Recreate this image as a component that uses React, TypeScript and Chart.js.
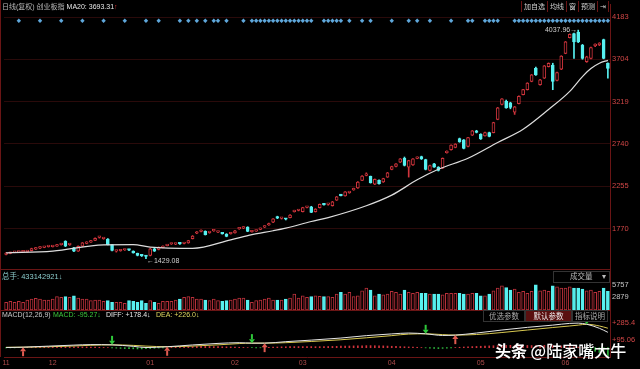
import React, { useEffect, useRef } from 'react';
import { Chart, registerables } from 'chart.js';
Chart.register(...registerables);

// ---------- data ----------
const monthLabels = ['11', '12', '01', '02', '03', '04', '05', '06'];
const monthStarts = [0, 11, 34, 54, 70, 91, 112, 132];
const priceTicks = [1770, 2255, 2740, 3219, 3704, 4183];
const volumeTicks = [2879, 5757];
const macdTicks = [95.06, 285.4];

const opens = [
  1478, 1490, 1503, 1505, 1508, 1510, 1523, 1540, 1550, 1560,
  1568, 1568, 1574, 1590, 1629, 1590, 1554, 1516, 1572, 1605,
  1620, 1640, 1673, 1660, 1655, 1591, 1516, 1521, 1529, 1530,
  1516, 1490, 1470, 1459, 1467, 1542, 1535, 1556, 1580, 1598,
  1596, 1600, 1603, 1610, 1659, 1720, 1740, 1742, 1727, 1748,
  1734, 1718, 1712, 1715, 1723, 1770, 1778, 1790, 1738, 1745,
  1765, 1790, 1815, 1846, 1910, 1890, 1881, 1899, 1968, 1980,
  1967, 2015, 2023, 1967, 2012, 2055, 2049, 2034, 2098, 2160,
  2147, 2183, 2215, 2237, 2324, 2380, 2369, 2279, 2324, 2305,
  2361, 2448, 2482, 2531, 2576, 2474, 2500, 2575, 2595, 2560,
  2437, 2512, 2474, 2463, 2640, 2673, 2700, 2801, 2786, 2711,
  2839, 2888, 2850, 2832, 2869, 2869, 3020, 3189, 3226, 3208,
  3102, 3200, 3302, 3358, 3452, 3602, 3414, 3490, 3621, 3640,
  3463, 3591, 3772, 3952, 3997, 4016, 3866, 3678, 3715, 3860,
  3872, 3929, 3659,
];
const highs = [
  1500, 1505, 1510, 1513, 1515, 1520, 1550, 1558, 1567, 1570,
  1575, 1582, 1593, 1606, 1635, 1600, 1560, 1576, 1615, 1624,
  1640, 1668, 1684, 1670, 1660, 1595, 1525, 1530, 1535, 1534,
  1520, 1494, 1476, 1465, 1548, 1550, 1565, 1577, 1595, 1606,
  1605, 1604, 1617, 1640, 1694, 1740, 1758, 1748, 1737, 1758,
  1742, 1722, 1716, 1730, 1753, 1788, 1795, 1795, 1750, 1757,
  1780, 1806, 1835, 1888, 1915, 1900, 1890, 1933, 1983, 1993,
  2017, 2026, 2028, 2001, 2054, 2060, 2060, 2084, 2140, 2165,
  2196, 2195, 2235, 2310, 2377, 2410, 2373, 2340, 2330, 2348,
  2415, 2486, 2516, 2573, 2590, 2553, 2573, 2592, 2600, 2565,
  2498, 2517, 2480, 2580, 2660, 2730, 2742, 2806, 2790, 2816,
  2893, 2895, 2856, 2874, 2874, 2987, 3156, 3258, 3240, 3215,
  3167, 3288, 3363, 3438, 3532, 3615, 3476, 3634, 3664, 3660,
  3558, 3746, 3908, 3995, 4005, 4037.96, 3875, 3740, 3845, 3880,
  3895, 3935, 3665,
];
const lows = [
  1472, 1486, 1498, 1500, 1503, 1505, 1518, 1535, 1545, 1555,
  1562, 1563, 1570, 1585, 1568, 1582, 1510, 1512, 1568, 1600,
  1615, 1636, 1665, 1652, 1587, 1520, 1505, 1515, 1524, 1522,
  1493, 1462, 1455, 1429.08, 1462, 1512, 1530, 1552, 1575, 1592,
  1590, 1594, 1598, 1606, 1655, 1715, 1735, 1700, 1720, 1742,
  1728, 1710, 1680, 1710, 1720, 1765, 1772, 1738, 1732, 1740,
  1760, 1785, 1810, 1842, 1887, 1882, 1872, 1895, 1962, 1975,
  1963, 2010, 1955, 1962, 2008, 2040, 2040, 2030, 2094, 2145,
  2143, 2176, 2210, 2233, 2320, 2375, 2292, 2275, 2280, 2300,
  2357, 2444, 2478, 2527, 2488, 2361, 2495, 2570, 2562, 2443,
  2432, 2470, 2430, 2458, 2635, 2668, 2695, 2758, 2683, 2706,
  2835, 2865, 2790, 2828, 2820, 2865, 3015, 3185, 3146, 3140,
  3076, 3196, 3298, 3354, 3448, 3522, 3410, 3486, 3617, 3358,
  3459, 3587, 3768, 3948, 3715, 3895, 3705, 3670, 3710, 3850,
  3860, 3710, 3490,
];
const closes = [
  1495, 1500, 1506, 1509, 1510, 1516, 1545, 1552, 1562, 1565,
  1570, 1578, 1588, 1602, 1572, 1592, 1516, 1572, 1610, 1618,
  1636, 1663, 1675, 1661, 1591, 1524, 1518, 1525, 1531, 1527,
  1497, 1467, 1462, 1455, 1542, 1516, 1561, 1572, 1590, 1600,
  1600, 1599, 1612, 1636, 1689, 1735, 1752, 1704, 1732, 1750,
  1735, 1714, 1685, 1725, 1749, 1782, 1790, 1742, 1742, 1752,
  1775, 1800, 1830, 1884, 1892, 1892, 1880, 1929, 1978, 1988,
  2012, 2020, 1959, 1997, 2049, 2045, 2050, 2079, 2136, 2150,
  2192, 2185, 2230, 2305, 2373, 2395, 2297, 2335, 2286, 2343,
  2410, 2482, 2512, 2568, 2493, 2549, 2568, 2587, 2568, 2448,
  2493, 2474, 2437, 2576, 2655, 2726, 2737, 2763, 2688, 2812,
  2888, 2870, 2796, 2869, 2826, 2982, 3151, 3253, 3151, 3155,
  3162, 3283, 3358, 3433, 3527, 3527, 3471, 3629, 3659, 3452,
  3553, 3741, 3903, 3990, 3903, 3903, 3715, 3734, 3839, 3866,
  3877, 3715, 3602,
];
const volumes = [
  1750, 1980, 1750, 1980, 1750, 2280, 2510, 2660, 2510, 2280,
  2280, 2510, 3040, 2890, 3040, 2890, 3260, 2740, 2510, 2510,
  2130, 2280, 2280, 1980, 2130, 1750, 1750, 1750, 1530, 2130,
  1980, 1750, 2130, 1530, 2130, 1750, 1530, 1980, 1980, 1980,
  2280, 2510, 2890, 3040, 2890, 2510, 2510, 2280, 2130, 2510,
  2130, 1980, 2130, 2280, 2510, 2740, 2740, 2280, 1750, 2130,
  2280, 2510, 2740, 2280, 2280, 2280, 2510, 2740, 3640, 2740,
  3260, 2890, 3040, 3260, 3100, 3040, 3040, 2890, 3640, 4020,
  3640, 4020, 3040, 3260, 4400, 5000, 4550, 3260, 3640, 3490,
  3640, 4250, 4020, 3640, 4550, 4020, 3790, 4020, 3790, 3790,
  3640, 3640, 3640, 3490, 3790, 3790, 3790, 3790, 3640, 3640,
  3790, 3790, 3260, 3260, 3640, 4400, 5000, 5530, 5150, 4550,
  4780, 4020, 4250, 3790, 4250, 5757, 4400, 4550, 4250, 5530,
  5300, 5000, 5000, 5300, 5000, 5000, 4780, 4400, 4550, 4020,
  4250, 5000, 4250,
];
// MA20 readings [index, value]
const ma20Points = [
  [0, 1497], [11, 1516], [23, 1588], [30, 1590], [34, 1562], [44, 1548],
  [53, 1645], [58, 1705], [63, 1749], [66, 1779], [72, 1854], [76, 1899],
  [85, 2034], [91, 2155], [97, 2330], [102, 2450], [109, 2576], [116, 2756],
  [122, 2907], [128, 3132], [133, 3339], [136, 3508], [138, 3600], [140, 3660],
  [142, 3693.31],
];
const diffPoints = [
  [0, 2], [4, 6], [10, 18], [16, 30], [20, 36], [25, 33], [30, 16], [33, 2],
  [38, 11], [44, 32], [50, 50], [55, 58], [58, 53], [61, 53], [66, 70], [72, 88],
  [79, 112], [85, 140], [91, 160], [95, 170], [99, 161], [103, 142], [106, 146],
  [111, 170], [117, 205], [123, 236], [129, 262], [133, 282], [135, 285],
  [137, 272], [140, 225], [142, 178.4],
];
const deaPoints = [
  [0, 5], [4, 6], [10, 11], [16, 20], [20, 28], [25, 33], [30, 27], [33, 19],
  [38, 11], [44, 19], [50, 33], [55, 48], [58, 53], [61, 53], [66, 58], [72, 72],
  [79, 92], [85, 115], [91, 140], [95, 158], [99, 161], [103, 152], [106, 146],
  [111, 153], [117, 176], [123, 205], [129, 234], [133, 252], [135, 262],
  [137, 272], [140, 252], [142, 226.0],
];
const macdHist = [
  -3, -2, -2, -1,
  2, 4, 6, 8, 9, 10, 11, 11, 12, 12, 11, 11, 10, 10, 9, 9, 8, 7, 5, 3, 1,
  -2, -5, -8, -10, -12, -13, -14, -14, -12, -10, -7, -4, -2,
  2, 4, 6, 8, 10, 12, 13, 14, 15, 15, 14, 13, 12, 11, 10, 9, 7, 5, 3, 1,
  -1, -2, -1,
  2, 4, 6, 8, 10, 11, 12, 13, 13, 13, 13, 13, 12, 12, 13, 14, 15, 16, 18, 19,
  20, 21, 22, 23, 24, 24, 23, 22, 21, 19, 17, 15, 13, 11, 9, 7, 5, 2,
  -2, -5, -8, -10, -8, -5, -2,
  2, 5, 8, 11, 13, 15, 17, 19, 21, 23, 25, 26, 27, 28, 28, 28, 27, 26, 25, 25,
  26, 27, 27, 25, 23, 21, 19, 16, 12, 8, 3,
  -10, -25, -40, -55, -75, -95.27,
];
const signalIdx = [
  3, 8, 13, 18, 23, 28, 33, 36, 41, 43, 45, 47, 49, 50, 52, 56,
  58, 59, 60, 61, 62, 63, 64, 65, 66, 67, 68, 69, 70, 71, 72,
  75, 76, 77, 78, 79, 81, 84, 86, 91, 95, 97, 100, 105, 109, 110,
  113, 114, 115, 116,
  120, 121, 122, 123, 124, 125, 126, 127, 128, 129, 130, 131, 132, 133, 134,
  135, 136, 137, 138, 139, 140, 141, 142,
];
const buyArrows = [[4, 6], [38, 11], [61, 53], [106, 146]];
const sellArrows = [[25, 33], [58, 53], [99, 161], [137, 272]];

// ---------- styles ----------
const FONT = '"Liberation Sans", "Noto Sans CJK SC", sans-serif';
const RED = '#d0343c';
const CYAN = '#58f0f0';
const DARKRED = '#6a1515';

const decorPlugin = {
  id: 'decor',
  afterDatasetsDraw(chart: any) {
    const { ctx, chartArea, scales } = chart;
    const x = scales.x, y = scales.y, yv = scales.yVol, ym = scales.yMacd;
    ctx.save();
    ctx.strokeStyle = DARKRED;
    ctx.lineWidth = 1;
    ctx.beginPath();
    ctx.moveTo(0.5, 0);
    ctx.lineTo(0.5, chartArea.bottom);
    [yv.top, ym.top].forEach((t: number) => {
      const yy = Math.round(t) + 0.5;
      ctx.moveTo(0, yy);
      ctx.lineTo(chartArea.right, yy);
    });
    ctx.stroke();

    const drawArrow = (i: number, v: number, upDir: boolean) => {
      const px = x.getPixelForValue(i);
      const py = ym.getPixelForValue(v);
      const s = upDir ? 1 : -1;
      ctx.fillStyle = upDir ? '#e05a50' : '#2ec83a';
      ctx.beginPath();
      ctx.moveTo(px, py);
      ctx.lineTo(px - 3, py + s * 4);
      ctx.lineTo(px + 3, py + s * 4);
      ctx.closePath();
      ctx.fill();
      ctx.fillRect(px - 1, upDir ? py + 4 : py - 9, 2, 5);
    };
    buyArrows.forEach(([i, v]) => drawArrow(i, v, true));
    sellArrows.forEach(([i, v]) => drawArrow(i, v, false));

    let hi = 0, lo = 0;
    highs.forEach((h, i) => { if (h > highs[hi]) hi = i; });
    lows.forEach((l, i) => { if (l < lows[lo]) lo = i; });
    ctx.font = '7px ' + FONT;
    ctx.fillStyle = '#d0d0d0';
    ctx.textBaseline = 'middle';
    ctx.textAlign = 'right';
    ctx.fillText(highs[hi].toFixed(2) + '→', x.getPixelForValue(hi) - 1, y.getPixelForValue(highs[hi]));
    ctx.textAlign = 'left';
    ctx.fillText('←' + lows[lo].toFixed(2), x.getPixelForValue(lo) + 1, y.getPixelForValue(lows[lo]) + 2);
    ctx.restore();
  },
};

const abs = (s: any) => ({ position: 'absolute', whiteSpace: 'nowrap', fontFamily: FONT, lineHeight: '10px', ...s });

const fitY = (s: any) => { s.width = 30; s.paddingTop = 0; s.paddingBottom = 0; };

export default function App() {
  const ref = useRef<HTMLCanvasElement>(null);
  useEffect(() => {
    document.body.style.margin = '0';
    document.body.style.background = '#000';
    const N = closes.length;
    const up = closes.map((c, i) => c >= opens[i]);
    const labels = closes.map((_, i) => String(i));
    const monthAt: Record<number, string> = {};
    monthStarts.forEach((s, k) => { monthAt[s] = monthLabels[k]; });
    const sparse = (pts: number[][]) => {
      const a: (number | null)[] = new Array(N).fill(null);
      pts.forEach(([i, v]) => { a[i] = v; });
      return a;
    };
    const SIGNAL_LEVEL = 4144;
    const signalData: (number | null)[] = new Array(N).fill(null);
    signalIdx.forEach((i) => { signalData[i] = SIGNAL_LEVEL; });

    const lineBase = { type: 'line', pointRadius: 0, borderWidth: 1, spanGaps: true, cubicInterpolationMode: 'monotone', order: 0 };
    const chart = new Chart(ref.current as HTMLCanvasElement, {
      type: 'bar',
      data: {
        labels,
        datasets: [
          { ...lineBase, data: sparse(ma20Points), yAxisID: 'y', borderColor: '#dcdcdc', borderWidth: 1.2 },
          { type: 'line', data: signalData, yAxisID: 'y', showLine: false, pointStyle: 'rectRot', pointRadius: 2.2, pointBackgroundColor: '#5fa8dc', pointBorderWidth: 0, order: 0 },
          { type: 'bar', data: opens.map((o, i) => [o, closes[i]]), yAxisID: 'y', backgroundColor: up.map((u) => (u ? '#000' : CYAN)), borderColor: up.map((u) => (u ? RED : CYAN)), borderWidth: 1, borderSkipped: false, barThickness: 3, minBarLength: 1.5, grouped: false, order: 1 },
          { type: 'bar', data: lows.map((l, i) => [l, highs[i]]), yAxisID: 'y', backgroundColor: up.map((u) => (u ? RED : CYAN)), borderWidth: 0, barThickness: 1, grouped: false, order: 2 },
          { type: 'bar', data: volumes, yAxisID: 'yVol', backgroundColor: up.map((u) => (u ? '#000' : CYAN)), borderColor: up.map((u) => (u ? '#b8303a' : CYAN)), borderWidth: 1, borderSkipped: false, barThickness: 3, grouped: false, order: 1 },
          { ...lineBase, data: sparse(diffPoints), yAxisID: 'yMacd', borderColor: '#e6e6e6' },
          { ...lineBase, data: sparse(deaPoints), yAxisID: 'yMacd', borderColor: '#d8c850' },
          { type: 'bar', data: macdHist, yAxisID: 'yMacd', backgroundColor: macdHist.map((v) => (v >= 0 ? RED : '#30c040')), borderWidth: 0, barThickness: 1, grouped: false, order: 1 },
        ] as any,
      },
      options: {
        animation: false,
        responsive: false,
        maintainAspectRatio: false,
        devicePixelRatio: 1,
        events: [],
        layout: { padding: { left: 2, right: 0, top: 0, bottom: 0 } },
        plugins: { legend: { display: false }, tooltip: { enabled: false } },
        scales: {
          x: {
            type: 'category',
            offset: true,
            grid: { display: false, drawTicks: false },
            border: { display: true, color: DARKRED },
            ticks: {
              autoSkip: false, maxRotation: 0, minRotation: 0, padding: 2,
              color: '#b04c4c', font: { size: 7, family: FONT },
              callback: (_v: any, i: number) => monthAt[i] ?? '',
            },
            afterFit: (s: any) => { s.height = 12; s.paddingLeft = 0; s.paddingRight = 0; },
          },
          y: {
            type: 'linear', position: 'right', stack: 'panes', stackWeight: 268,
            min: 1312.6, max: 4335.7,
            grid: { color: '#2a0a0a', drawTicks: false },
            border: { display: true, color: DARKRED },
            ticks: { color: '#d04646', font: { size: 7.5, family: FONT }, padding: 2, callback: (v: any) => String(v) },
            afterBuildTicks: (s: any) => { s.ticks = priceTicks.map((v) => ({ value: v })); },
            afterFit: fitY,
          },
          yVol: {
            type: 'linear', position: 'right', stack: 'panes', stackWeight: 41.4,
            min: 0, max: 9388,
            grid: { display: false, drawTicks: false },
            border: { display: true, color: DARKRED },
            ticks: { color: '#c4c4c4', font: { size: 7.5, family: FONT }, padding: 2, callback: (v: any) => String(v) },
            afterBuildTicks: (s: any) => { s.ticks = volumeTicks.map((v) => ({ value: v })); },
            afterFit: fitY,
          },
          yMacd: {
            type: 'linear', position: 'right', stack: 'panes', stackWeight: 47.6,
            min: -107.8, max: 438,
            grid: { display: false, drawTicks: false },
            border: { display: true, color: DARKRED },
            ticks: { color: '#d04646', font: { size: 7.5, family: FONT }, padding: 2, callback: (v: any) => '+' + v },
            afterBuildTicks: (s: any) => { s.ticks = macdTicks.map((v) => ({ value: v })); },
            afterFit: fitY,
          },
        } as any,
      },
      plugins: [decorPlugin],
    } as any);
    return () => chart.destroy();
  }, []);

  const sep = { borderLeft: '1px solid ' + DARKRED, padding: '0 2px', height: 11, lineHeight: '11px' };
  const btn = (left: number, width: number, text: string, active: boolean) => (
    <div style={abs({ left, top: 310, width, height: 12, lineHeight: '11px', boxSizing: 'border-box', border: '1px solid #333', background: active ? '#5a1010' : '#000', color: active ? '#eee' : '#aaa', fontSize: 7.5, textAlign: 'center' })}>{text}</div>
  );

  return (
    <div style={{ position: 'relative', width: 640, height: 369, background: '#000', overflow: 'hidden' }}>
      <canvas ref={ref} width={640} height={369} style={{ display: 'block', width: 640, height: 369 }} />
      <div style={abs({ left: 2, top: 2, fontSize: 7, color: '#b8b8b8' })}>
        日线(复权) 创业板指 <span style={{ color: '#e8e8e8' }}>MA20: 3693.31</span><span style={{ color: '#e03030' }}>↑</span>
      </div>
      <div style={abs({ left: 521, top: 1, fontSize: 7, color: '#cfcfcf', display: 'flex', borderRight: '1px solid ' + DARKRED })}>
        <span style={sep}>加自选</span>
        <span style={sep}>均线</span>
        <span style={sep}>窗</span>
        <span style={sep}>预测</span>
        <span style={sep}>⇥</span>
      </div>
      <div style={abs({ left: 2, top: 272, fontSize: 7.5, color: '#8ccccc' })}>总手: 433142921↓</div>
      <div style={abs({ left: 553, top: 271, width: 57, height: 12, boxSizing: 'border-box', border: '1px solid #333', background: '#000', fontSize: 7.5, color: '#bbb', lineHeight: '10px' })}>
        <span style={{ position: 'absolute', left: 16, top: 0 }}>成交量</span>
        <span style={{ position: 'absolute', right: 3, top: 0 }}>▾</span>
      </div>
      <div style={abs({ left: 2, top: 310, fontSize: 7, color: '#c8c8c8' })}>MACD(12,26,9)</div>
      <div style={abs({ left: 53, top: 310, fontSize: 7, color: '#3cc83c' })}>MACD: -95.27↓</div>
      <div style={abs({ left: 106, top: 310, fontSize: 7, color: '#e8e8e8' })}>DIFF: +178.4↓</div>
      <div style={abs({ left: 156, top: 310, fontSize: 7, color: '#e0d860' })}>DEA: +226.0↓</div>
      {btn(483, 42, '优选参数', false)}
      {btn(525, 47, '默认参数', true)}
      {btn(572, 36, '指标说明', false)}
      <div style={abs({ left: 495, top: 342, fontSize: 16, lineHeight: '16px', color: '#fff', fontFamily: '"Noto Sans CJK SC", sans-serif', textShadow: '0 0 2px rgba(0,0,0,0.7)' })}>
        <span style={{ fontWeight: 700 }}>头条</span> <span style={{ fontWeight: 500 }}>@陆家嘴大牛</span>
      </div>
    </div>
  );
}
